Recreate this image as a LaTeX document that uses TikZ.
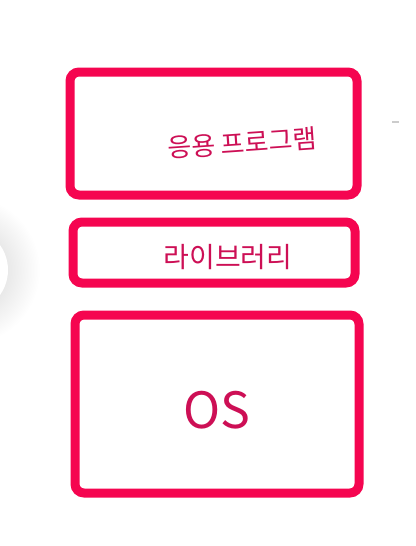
\documentclass[tikz,border=0pt]{standalone}
\usepackage{fontspec}
\newfontfamily\krfont{Noto Sans CJK KR}
\definecolor{layerpink}{RGB}{245,5,80}
\definecolor{inkred}{RGB}{205,15,85}

\begin{document}
\begin{tikzpicture}[x=1pt,y=-1pt,
		layer/.style={draw=layerpink,line width=9pt,rounded corners=9pt,inner sep=0pt},
		hand/.style={text=inkred,inner sep=0pt}]
		\useasboundingbox (0,0) rectangle (415,546);
		\fill[white] (0,0) rectangle (415,546);
		\shade[inner color=gray!40,outer color=white] (-35,270) circle (75);
		\fill[white] (-35,270) circle (43);
		\draw[gray!40,line width=2pt] (392,122) -- (399,122);
		\node[layer,minimum width=287pt,minimum height=123pt] (app) at (213.5,133.5) {};
		\node[layer,minimum width=282pt,minimum height=61pt] (lib) at (214,252.5) {};
		\node[layer,minimum width=284pt,minimum height=178pt] (os) at (217,404) {};
		\node[hand,font=\krfont\fontsize{26}{26}\selectfont,rotate=4] (applabel) at (242,143) {응용 프로그램};
		\node[hand,font=\krfont\fontsize{28}{28}\selectfont] (liblabel) at (228,257) {라이브러리};
		\node[hand,font=\krfont\fontsize{50}{50}\selectfont] (oslabel) at (217,410) {OS};
		\end{tikzpicture}
\end{document}
